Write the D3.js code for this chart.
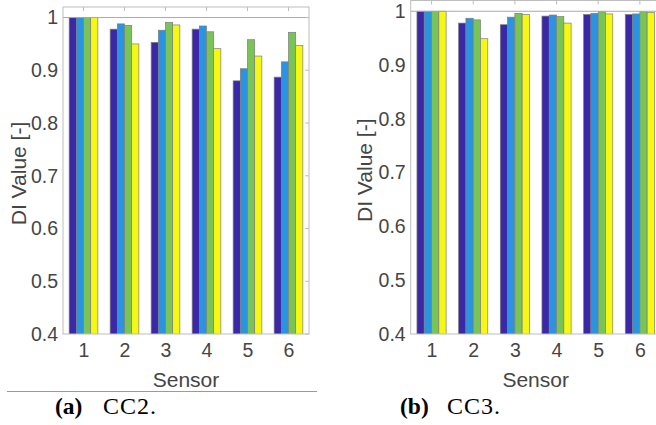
<!DOCTYPE html>
<html>
<head>
<meta charset="utf-8">
<script src="https://cdn.jsdelivr.net/npm/d3@7"></script>
<style>
  html, body { margin: 0; padding: 0; background: #fff; }
  svg { display: block; }
</style>
</head>
<body>
<svg id="fig" width="656" height="425"></svg>
<script>
// Sensor categories and value-axis ticks
const sensors = ["1", "2", "3", "4", "5", "6"];
const yTicks = [0.4, 0.5, 0.6, 0.7, 0.8, 0.9, 1];

// CC2: DI values per sensor, four series
const cc2S1 = [1, 0.978, 0.953, 0.978, 0.880, 0.887];
const cc2S2 = [1, 0.988, 0.976, 0.984, 0.903, 0.916];
const cc2S3 = [1, 0.985, 0.991, 0.973, 0.958, 0.972];
const cc2S4 = [1, 0.950, 0.986, 0.941, 0.927, 0.947];

// CC3: DI values per sensor, four series
const cc3S1 = [1, 0.978, 0.975, 0.991, 0.994, 0.994];
const cc3S2 = [1, 0.987, 0.989, 0.993, 0.996, 0.995];
const cc3S3 = [1, 0.984, 0.996, 0.990, 0.999, 0.999];
const cc3S4 = [1, 0.949, 0.994, 0.978, 0.995, 0.998];

const seriesColors = ["#3b28a6", "#2a94e2", "#79c457", "#f6f712"];

const svg = d3.select("#fig");
const textColor = "#454545";
const boxColor = "#bdbdbd";

function panel(id, box, series, yLabelX) {
  const g = svg.append("g");
  const x = d3.scaleLinear().domain([0.5, 6.5]).range([box.left, box.right]);
  const y = d3.scaleLinear().domain([0.4, 1.02]).range([box.bottom, box.top]);

  g.append("clipPath").attr("id", id)
    .append("rect")
    .attr("x", box.left).attr("y", box.top)
    .attr("width", box.right - box.left).attr("height", box.bottom - box.top);

  const plot = g.append("g").attr("clip-path", `url(#${id})`);

  // grouped bars
  const barW = 0.175;
  const offsets = [-1.5, -0.5, 0.5, 1.5].map(k => k * barW);
  series.forEach((vals, si) => {
    plot.selectAll(null).data(vals).enter().append("rect")
      .attr("x", (d, i) => x(i + 1 + offsets[si] - barW / 2))
      .attr("width", x(1 + barW) - x(1))
      .attr("y", d => y(d))
      .attr("height", d => y(0.4) - y(d) + 2)
      .attr("fill", seriesColors[si])
      .attr("stroke", "#7d7d7d")
      .attr("stroke-width", 0.7);
  });

  // reference line at 1
  plot.append("line")
    .attr("x1", box.left).attr("x2", box.right)
    .attr("y1", y(1)).attr("y2", y(1))
    .attr("stroke", "#a8a8a8").attr("stroke-width", 1);

  // box
  g.append("rect")
    .attr("x", box.left).attr("y", box.top)
    .attr("width", box.right - box.left).attr("height", box.bottom - box.top)
    .attr("fill", "none").attr("stroke", boxColor).attr("stroke-width", 1);

  // inward ticks
  const tl = 4;
  sensors.forEach((s, i) => {
    const xx = x(i + 1);
    g.append("line").attr("x1", xx).attr("x2", xx)
      .attr("y1", box.top).attr("y2", box.top + tl)
      .attr("stroke", boxColor);
  });
  yTicks.forEach(t => {
    const yy = y(t);
    g.append("line").attr("x1", box.right).attr("x2", box.right - tl)
      .attr("y1", yy).attr("y2", yy).attr("stroke", boxColor);
  });

  // tick labels via d3 axes
  const yAxis = g.append("g")
    .attr("transform", `translate(${box.left},0)`)
    .call(d3.axisLeft(y).tickValues(yTicks).tickFormat(d3.format("~g")).tickSize(0).tickPadding(5));
  yAxis.select(".domain").remove();
  yAxis.selectAll("text")
    .attr("font-family", "Liberation Sans, Arial, sans-serif")
    .attr("font-size", 19.5).attr("fill", textColor);

  const xAxis = g.append("g")
    .attr("transform", `translate(0,${box.bottom})`)
    .call(d3.axisBottom(x).tickValues([1, 2, 3, 4, 5, 6]).tickFormat((d) => sensors[d - 1]).tickSize(0).tickPadding(9));
  xAxis.select(".domain").remove();
  xAxis.selectAll("text")
    .attr("font-family", "Liberation Sans, Arial, sans-serif")
    .attr("font-size", 19.5).attr("fill", textColor);

  g.append("text")
    .attr("x", (box.left + box.right) / 2).attr("y", 387)
    .attr("text-anchor", "middle")
    .attr("font-family", "Liberation Sans, Arial, sans-serif")
    .attr("font-size", 21).attr("fill", textColor)
    .text("Sensor");

  g.append("text")
    .attr("transform", `translate(${yLabelX},${(box.top + box.bottom) / 2 + 3}) rotate(-90)`)
    .attr("text-anchor", "middle")
    .attr("font-family", "Liberation Sans, Arial, sans-serif")
    .attr("font-size", 21).attr("fill", textColor)
    .text("DI Value [-]");
}

panel("clipA", { left: 63, right: 309, top: 7, bottom: 334 }, [cc2S1, cc2S2, cc2S3, cc2S4], 26);
panel("clipB", { left: 410.7, right: 660.7, top: 0.5, bottom: 334 }, [cc3S1, cc3S2, cc3S3, cc3S4], 372);

// separator under panel (a)
svg.append("line")
  .attr("x1", 7).attr("x2", 317).attr("y1", 391.5).attr("y2", 391.5)
  .attr("stroke", "#9a9a9a").attr("stroke-width", 1);

// captions
function caption(xTag, xText, tag, label) {
  svg.append("text").attr("x", xTag).attr("y", 414)
    .attr("font-family", "Liberation Serif, Times New Roman, serif")
    .attr("font-size", 23.5).attr("font-weight", "bold").attr("fill", "#000")
    .text(tag);
  svg.append("text").attr("x", xText).attr("y", 414)
    .attr("font-family", "Liberation Serif, Times New Roman, serif")
    .attr("font-size", 24).attr("letter-spacing", 1).attr("fill", "#000")
    .text(label);
}
caption(55, 103, "(a)", "CC2.");
caption(400, 447, "(b)", "CC3.");
</script>
</body>
</html>
